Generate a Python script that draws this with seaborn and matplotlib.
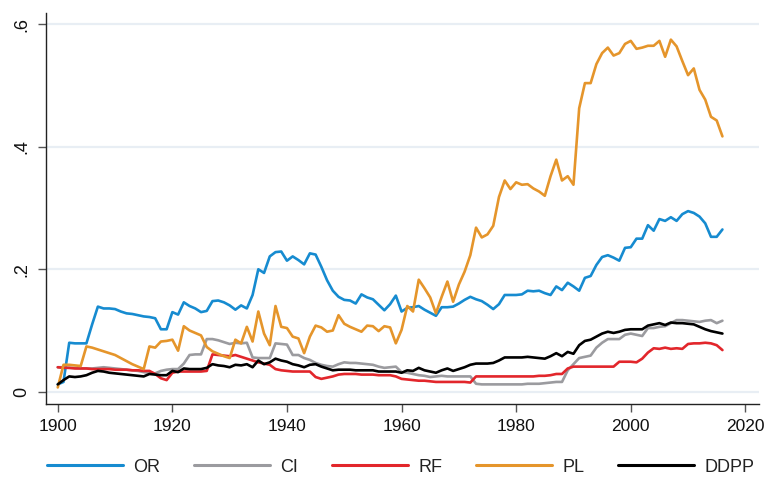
import matplotlib.pyplot as plt
import seaborn as sns
import pandas as pd

years = list(range(1900, 2017))

OR = [.012, .016, .080, .079, .079, .079, .110, .139, .136, .136,
      .135, .131, .128, .127, .125, .123, .122, .120, .102, .102,
      .130, .126, .146, .140, .136, .130, .132, .148, .149, .146,
      .141, .134, .141, .136, .158, .200, .194, .221, .228, .229,
      .214, .221, .215, .208, .226, .224, .204, .182, .165, .155,
      .150, .149, .144, .159, .154, .151, .142, .133, .143, .157,
      .131, .137, .138, .140, .134, .129, .124, .138, .138, .139,
      .144, .150, .155, .151, .148, .142, .135, .143, .158, .158,
      .158, .159, .165, .164, .165, .161, .158, .172, .166, .178,
      .172, .165, .186, .189, .207, .220, .223, .219, .214, .235,
      .236, .250, .250, .272, .263, .282, .279, .285, .279, .290,
      .295, .292, .286, .275, .253, .253, .265]

CI = [.040, .040, .039, .039, .038, .038, .038, .039, .040, .039,
      .038, .037, .036, .035, .034, .032, .031, .030, .034, .036,
      .037, .037, .046, .060, .061, .061, .086, .086, .084, .081,
      .078, .080, .079, .080, .056, .055, .055, .055, .079, .078,
      .077, .060, .060, .055, .052, .047, .044, .042, .041, .045,
      .048, .047, .047, .046, .045, .044, .041, .039, .040, .041,
      .032, .031, .029, .027, .026, .024, .025, .026, .025, .025,
      .025, .025, .025, .013, .012, .012, .012, .012, .012, .012,
      .012, .012, .013, .013, .013, .014, .015, .016, .016, .035,
      .045, .055, .057, .059, .072, .080, .086, .086, .086, .093,
      .095, .093, .091, .104, .104, .106, .107, .112, .117, .117,
      .116, .115, .114, .116, .117, .112, .116]

RF = [.040, .039, .039, .038, .038, .038, .037, .037, .037, .037,
      .036, .036, .036, .035, .035, .034, .034, .029, .022, .019,
      .031, .033, .033, .033, .033, .033, .034, .061, .060, .059,
      .058, .060, .057, .054, .051, .048, .046, .044, .037, .035,
      .034, .033, .033, .033, .033, .024, .021, .023, .025, .028,
      .029, .029, .029, .028, .028, .028, .027, .027, .027, .025,
      .021, .020, .019, .018, .018, .017, .016, .016, .016, .016,
      .016, .016, .015, .025, .025, .025, .025, .025, .025, .025,
      .025, .025, .025, .025, .026, .026, .027, .029, .029, .038,
      .041, .041, .041, .041, .041, .041, .041, .041, .049, .049,
      .049, .048, .054, .064, .071, .070, .072, .070, .071, .070,
      .078, .079, .079, .080, .079, .076, .068]

PL = [.007, .044, .044, .043, .042, .074, .072, .069, .066, .063,
      .060, .055, .050, .045, .041, .037, .074, .072, .082, .083,
      .085, .067, .107, .100, .096, .092, .073, .066, .062, .058,
      .055, .085, .079, .106, .082, .131, .095, .076, .140, .106,
      .104, .090, .087, .063, .090, .108, .105, .098, .100, .125,
      .111, .106, .102, .098, .108, .107, .099, .107, .105, .079,
      .101, .140, .131, .183, .169, .154, .128, .155, .180, .147,
      .175, .196, .223, .268, .252, .257, .271, .318, .345, .331,
      .342, .338, .339, .332, .327, .320, .352, .379, .345, .352,
      .338, .463, .504, .504, .535, .553, .562, .549, .553, .568,
      .573, .560, .562, .565, .565, .573, .547, .575, .564, .540,
      .517, .528, .493, .477, .449, .443, .417]

DDPP = [.012, .019, .025, .024, .025, .027, .031, .034, .033, .031,
        .030, .029, .028, .027, .026, .025, .029, .028, .027, .027,
        .034, .032, .038, .037, .037, .037, .039, .045, .043, .042,
        .040, .044, .043, .045, .040, .051, .045, .048, .054, .051,
        .049, .045, .043, .040, .044, .045, .041, .038, .035, .036,
        .036, .036, .035, .035, .035, .035, .033, .033, .033, .033,
        .031, .035, .034, .039, .035, .033, .031, .035, .038, .034,
        .037, .040, .044, .046, .046, .046, .047, .051, .056, .056,
        .056, .056, .057, .056, .055, .054, .058, .063, .058, .065,
        .062, .076, .083, .085, .090, .095, .098, .096, .098, .101,
        .102, .102, .102, .108, .110, .112, .109, .113, .112, .112,
        .111, .110, .106, .102, .099, .097, .095]

series_names = ["OR", "CI", "RF", "PL", "DDPP"]
series_colors = ["#168bd0", "#9b9b9f", "#e2262b", "#e5952b", "#000000"]
x_ticks = [1900, 1920, 1940, 1960, 1980, 2000, 2020]
y_ticks = [0, .2, .4, .6]
y_tick_labels = ["0", ".2", ".4", ".6"]

frames = []
for name, vals in zip(series_names, [OR, CI, RF, PL, DDPP]):
    frames.append(pd.DataFrame({"year": years, "value": vals, "series": name}))
df = pd.concat(frames, ignore_index=True)

sns.set_theme(style="white")
plt.rcParams["font.family"] = ["Liberation Sans", "DejaVu Sans"]

fig = plt.figure(figsize=(7.66, 4.83), dpi=100)
ax = fig.add_axes([0.0597, 0.1636, 0.9313, 0.8101])

# light Stata-like gridlines
for y in y_ticks:
    ax.axhline(y, color="#e8eef4", lw=1.6, zorder=0)

sns.lineplot(data=df, x="year", y="value", hue="series", hue_order=series_names,
             palette=series_colors, linewidth=1.9, ax=ax, legend=False, zorder=2)

ax.set_xlim(1897.9, 2022.4)
ax.set_ylim(-0.020, 0.619)
ax.set_xticks(x_ticks)
ax.set_yticks(y_ticks)
ax.set_yticklabels(y_tick_labels, rotation=90, va="center", fontsize=13)
ax.tick_params(axis="x", labelsize=12.5, length=6, width=1, color="#555555",
               labelcolor="#111111", direction="out", bottom=True, pad=5)
ax.tick_params(axis="y", length=6, width=1, color="#555555",
               labelcolor="#111111", direction="out", left=True, pad=5)
ax.set_xlabel("")
ax.set_ylabel("")
for side in ["top", "right"]:
    ax.spines[side].set_visible(False)
for side in ["left", "bottom"]:
    ax.spines[side].set_color("#222222")
    ax.spines[side].set_linewidth(1.0)

handles = [plt.Line2D([0], [0], color=c, lw=2.2) for c in series_colors]
fig.legend(handles, series_names, loc="center", bbox_to_anchor=(0.523, 1 - 467 / 483),
           ncol=5, frameon=False, fontsize=13, handlelength=4.2,
           handletextpad=0.6, columnspacing=1.85, labelcolor="#222222")

fig.savefig("out.png", dpi=100, facecolor="white")
